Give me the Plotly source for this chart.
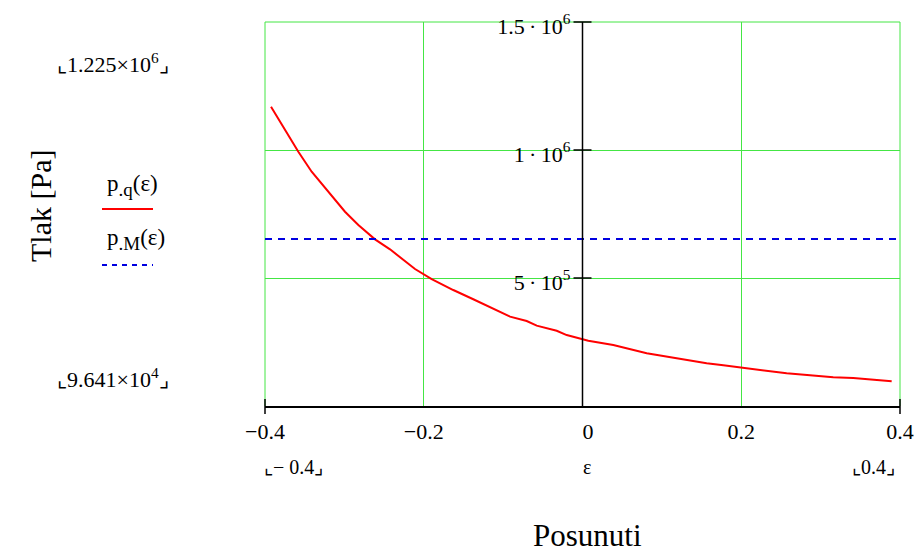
import plotly.graph_objects as go

# ---- data ----
eps_q = [-0.3924, -0.3727, -0.3580, -0.3412, -0.3223, -0.2992, -0.2824, -0.2614,
         -0.2425, -0.2258, -0.2110, -0.1900, -0.1628, -0.1376, -0.1081, -0.0913,
         -0.0703, -0.0577, -0.0325, -0.0199, 0.0073, 0.0388, 0.0809, 0.1102,
         0.1354, 0.1564, 0.1774, 0.1984, 0.2236, 0.2572, 0.2866, 0.3159,
         0.3411, 0.3663, 0.3895]
p_q = [1.169e6, 1.065e6, 0.993e6, 0.915e6, 0.844e6, 0.759e6, 0.707e6, 0.651e6,
       0.612e6, 0.570e6, 0.535e6, 0.496e6, 0.453e6, 0.417e6, 0.375e6, 0.349e6,
       0.332e6, 0.314e6, 0.294e6, 0.277e6, 0.255e6, 0.238e6, 0.206e6, 0.190e6,
       0.177e6, 0.167e6, 0.159e6, 0.151e6, 0.1406e6, 0.1277e6, 0.1199e6, 0.1121e6,
       0.1094e6, 0.1027e6, 0.0964e6]

eps_M = [-0.4, 0.4]
p_M = [6.52e5, 6.52e5]

x_tick_vals = [-0.4, -0.2, 0.0, 0.2, 0.4]
x_tick_text = ["\u22120.4", "\u22120.2", "\u20020", "0.2", "0.4"]
y_tick_vals = [5e5, 1e6, 1.5e6]
y_tick_text = ["5\u2009\u00b7\u200910<sup>5</sup>", "1\u2009\u00b7\u200910<sup>6</sup>",
               "1.5\u2009\u00b7\u200910<sup>6</sup>"]

x_range = [-0.4, 0.4]
y_range = [0, 1.5e6]

legend_q = "p<sub><span style='font-size:19px'>.q</span></sub>(\u03b5)"
legend_M = "p<sub><span style='font-size:19px'>.M</span></sub>(\u03b5)"
y_max_label = "\u231e1.225\u00d710<sup>6</sup>\u231f"
y_min_label = "\u231e9.641\u00d710<sup>4</sup>\u231f"
x_min_label = "\u231e\u2212 0.4\u231f"
x_max_label = "\u231e0.4\u231f"
x_var_label = "\u03b5"
x_title = "Posunuti"
y_title = "Tlak [Pa]"

# ---- figure geometry (screen pixels; page body has an 8px margin) ----
OFF = 8
SW, SH = 922, 554
PL, PR, PT, PB = 265, 900, 22, 406   # plot area in screen pixels
W, H = SW - OFF, SH - OFF
L, T = PL - OFF, PT - OFF
R = W - (PR - OFF)
B = H - (PB - OFF)

def px(x):
    return (x - PL) / (PR - PL)

def py(y):
    return (PB - y) / (PB - PT)

def xfrac(v):
    return (v - x_range[0]) / (x_range[1] - x_range[0])

def yfrac(v):
    return (v - y_range[0]) / (y_range[1] - y_range[0])

GRID = "#44e644"
RED = "#ff0000"
BLUE = "#0000e0"
FONT = "Liberation Serif"

fig = go.Figure()
fig.add_trace(go.Scatter(x=eps_q, y=p_q, mode="lines",
                         line=dict(color=RED, width=2), showlegend=False))
fig.add_trace(go.Scatter(x=eps_M, y=p_M, mode="lines",
                         line=dict(color=BLUE, width=2, dash="7px,6px"), showlegend=False))

fig.update_layout(
    width=W, height=H, autosize=False,
    margin=dict(l=L, r=R, t=T, b=B, pad=0),
    paper_bgcolor="white", plot_bgcolor="white",
    font=dict(family=FONT, size=22, color="black"),
    showlegend=False,
)
fig.update_xaxes(range=x_range, tickvals=x_tick_vals, ticktext=x_tick_text,
                 showgrid=True, gridcolor=GRID, gridwidth=1, zeroline=False,
                 showline=True, linecolor="black", linewidth=1.5, ticks="",
                 ticklabelstandoff=5, automargin=False, ticklabeloverflow="allow",
                 tickfont=dict(family=FONT, size=22))
fig.update_yaxes(range=y_range, tickvals=y_tick_vals, ticktext=y_tick_text,
                 showgrid=True, gridcolor=GRID, gridwidth=1, zeroline=False,
                 showline=False, anchor="free", position=xfrac(0), ticks="",
                 ticklabelstandoff=12, ticklabelshift=4, automargin=False,
                 ticklabeloverflow="allow",
                 tickfont=dict(family=FONT, size=22))

shapes = []
# frame edges in grid colour
for xv in x_range:
    shapes.append(dict(type="line", xref="paper", yref="paper", x0=xfrac(xv), x1=xfrac(xv),
                       y0=0, y1=1, line=dict(color=GRID, width=1), layer="below"))
shapes.append(dict(type="line", xref="paper", yref="paper", x0=0, x1=1,
                   y0=1, y1=1, line=dict(color=GRID, width=1), layer="below"))
# vertical black axis at eps = 0
shapes.append(dict(type="line", xref="paper", yref="paper", x0=xfrac(0), x1=xfrac(0),
                   y0=0, y1=1, line=dict(color="black", width=1.5)))
# crossing ticks on the vertical axis
for v in y_tick_vals:
    shapes.append(dict(type="line", xref="paper", yref="paper", xsizemode="pixel",
                       xanchor=xfrac(0), x0=-9, x1=9, y0=yfrac(v), y1=yfrac(v),
                       line=dict(color="black", width=1.5)))
# end ticks on horizontal axis
for v in x_range:
    shapes.append(dict(type="line", xref="paper", yref="paper", ysizemode="pixel",
                       yanchor=0, x0=xfrac(v), x1=xfrac(v), y0=-8, y1=7,
                       line=dict(color="black", width=1.5)))
# legend samples
shapes.append(dict(type="line", xref="paper", yref="paper", x0=px(102), x1=px(153),
                   y0=py(209), y1=py(209), line=dict(color=RED, width=2)))
shapes.append(dict(type="line", xref="paper", yref="paper", x0=px(102), x1=px(153),
                   y0=py(265), y1=py(265), line=dict(color=BLUE, width=2, dash="5px,5px")))
fig.update_layout(shapes=shapes)

def ann(text, x, y, size=20, xanchor="center", angle=0):
    return dict(text=text, x=px(x), y=py(y), xref="paper", yref="paper",
                showarrow=False, xanchor=xanchor, yanchor="middle", textangle=angle,
                font=dict(family=FONT, size=size, color="black"))

annotations = [
    ann(y_max_label, 113, 63, 22),
    ann(y_min_label, 113, 378, 22),
    ann(legend_q, 105, 185, 23, xanchor="left"),
    ann(legend_M, 105, 240, 23, xanchor="left"),
    ann(y_title, 40, 206, 30, angle=-90),
    ann(x_min_label, 293, 467, 20),
    ann(x_var_label, 587, 467, 20),
    ann(x_max_label, 873, 467, 20),
    ann(x_title, 587, 535, 31),
]
fig.update_layout(annotations=annotations)

fig.write_html("out.html")
